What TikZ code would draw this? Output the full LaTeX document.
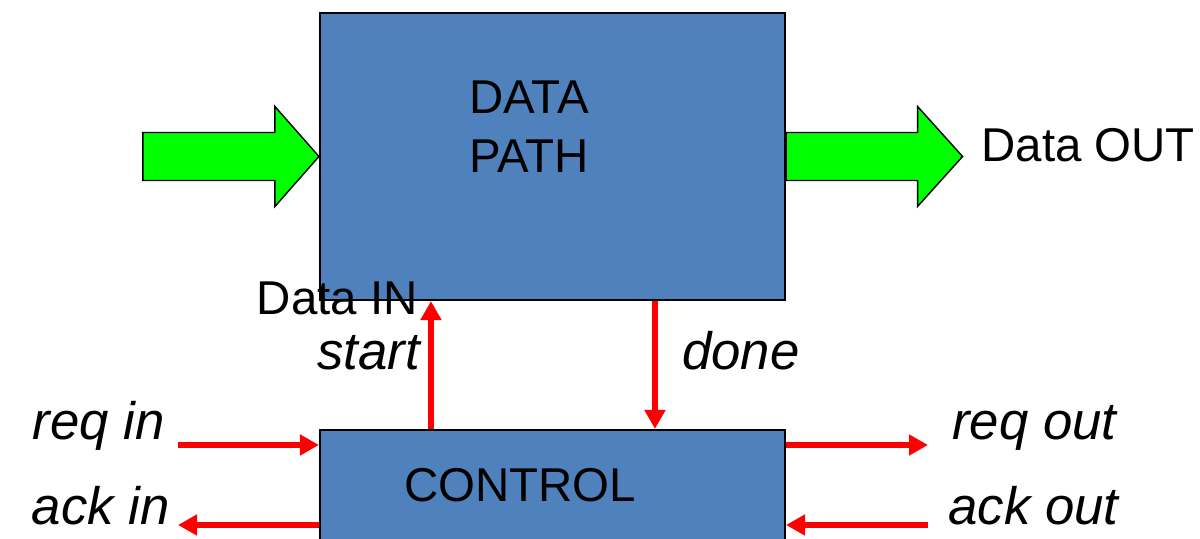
\documentclass[tikz,border=0pt]{standalone}
\usepackage{fontspec}
\setmainfont{Liberation Sans}
\usepackage{xcolor}
\usepackage{tikz}
\usetikzlibrary{calc, arrows.meta, backgrounds, positioning}
\definecolor{blockblue}{HTML}{4F81BD}
\definecolor{busgreen}{HTML}{00FF00}
\tikzset{
    blocknode/.style = {draw, rectangle, fill=blockblue, line width=1.2pt, inner sep = 0em, node distance=0em},
    textnode/.style  = {draw=none, fill=none, rectangle, minimum size=0cm, inner sep = 0em, 
      node distance=0em, font=\fontsize{27}{33.5}\selectfont},
    signaltext/.style = {textnode, font=\fontsize{30}{36}\selectfont\itshape},
    signal/.style = {red, line width=3pt, -{Triangle[length=0.38cm, width=0.4cm]}},
    busarrow/.style = {draw=black, fill=busgreen, line width=0.8pt, line join=miter},
    every text node part/.style={align=center}
}

\begin{document}
\begin{tikzpicture}
    \clip (0,0) rectangle (24,10.78);

    \node [name=dp, blocknode, minimum width=9.3cm, minimum height=5.74cm] at (11.05,7.65) {}; 
    \node [name=dptext, textnode, align=left] at (10.58,8.24) {DATA\\PATH}; 
    \node [name=ctrl, blocknode, below of=dp, yshift=-7.06cm, minimum width=9.3cm, minimum height=3.18cm] {}; 
    \node [name=ctrltext, textnode] at (10.4,1.08) {CONTROL}; 

    \begin{scope}[on background layer]
        \draw [busarrow] (dp.west) -- ++(-0.88,1.0) -- ++(0,-0.52) -- ++(-2.64,0) -- ++(0,-0.96) 
            -- ++(2.64,0) -- ++(0,-0.52) -- cycle;
        \draw [busarrow] ($(dp.east)+(0,0.48)$) -- ++(2.63,0) -- ++(0,0.52) -- ($(dp.east)+(3.53,0)$) 
            -- ++(-0.9,-1.0) -- ++(0,0.52) -- ++(-2.63,0) -- cycle;
    \end{scope}

    \node [name=datain, textnode, anchor=base east] at (8.36,4.48) {Data IN}; 
    \node [name=dataout, textnode, anchor=base west] at (19.62,7.54) {Data OUT}; 

    \coordinate (startfoot) at ($(ctrl.north west)+(2.24,0)$);
    \coordinate (donetop) at ($(dp.south west)+(6.72,0)$);
    \draw [signal] (startfoot) -- (startfoot |- dp.south);
    \draw [signal] (donetop) -- (donetop |- ctrl.north);
    \node [name=start, signaltext, anchor=base east] at (8.4,3.38) {start}; 
    \node [name=done, signaltext, anchor=base west] at (13.64,3.38) {done}; 

    \coordinate (reqin) at (3.56,1.88);
    \coordinate (ackin) at (3.56,0.28);
    \coordinate (reqout) at (18.56,1.88);
    \coordinate (ackout) at (18.56,0.28);
    \draw [signal] (reqin) -- (reqin -| ctrl.west);
    \draw [signal] (ackin -| ctrl.west) -- (ackin);
    \draw [signal] (reqout -| ctrl.east) -- (reqout);
    \draw [signal] (ackout) -- (ackout -| ctrl.east);

    \node [name=reqinlabel, signaltext, anchor=base east] at (3.3,1.98) {req in}; 
    \node [name=ackinlabel, signaltext, anchor=base east] at (3.4,0.28) {ack in}; 
    \node [name=reqoutlabel, signaltext, anchor=base west] at (19.04,1.98) {req out}; 
    \node [name=ackoutlabel, signaltext, anchor=base west] at (18.96,0.28) {ack out}; 
\end{tikzpicture}
\end{document}
